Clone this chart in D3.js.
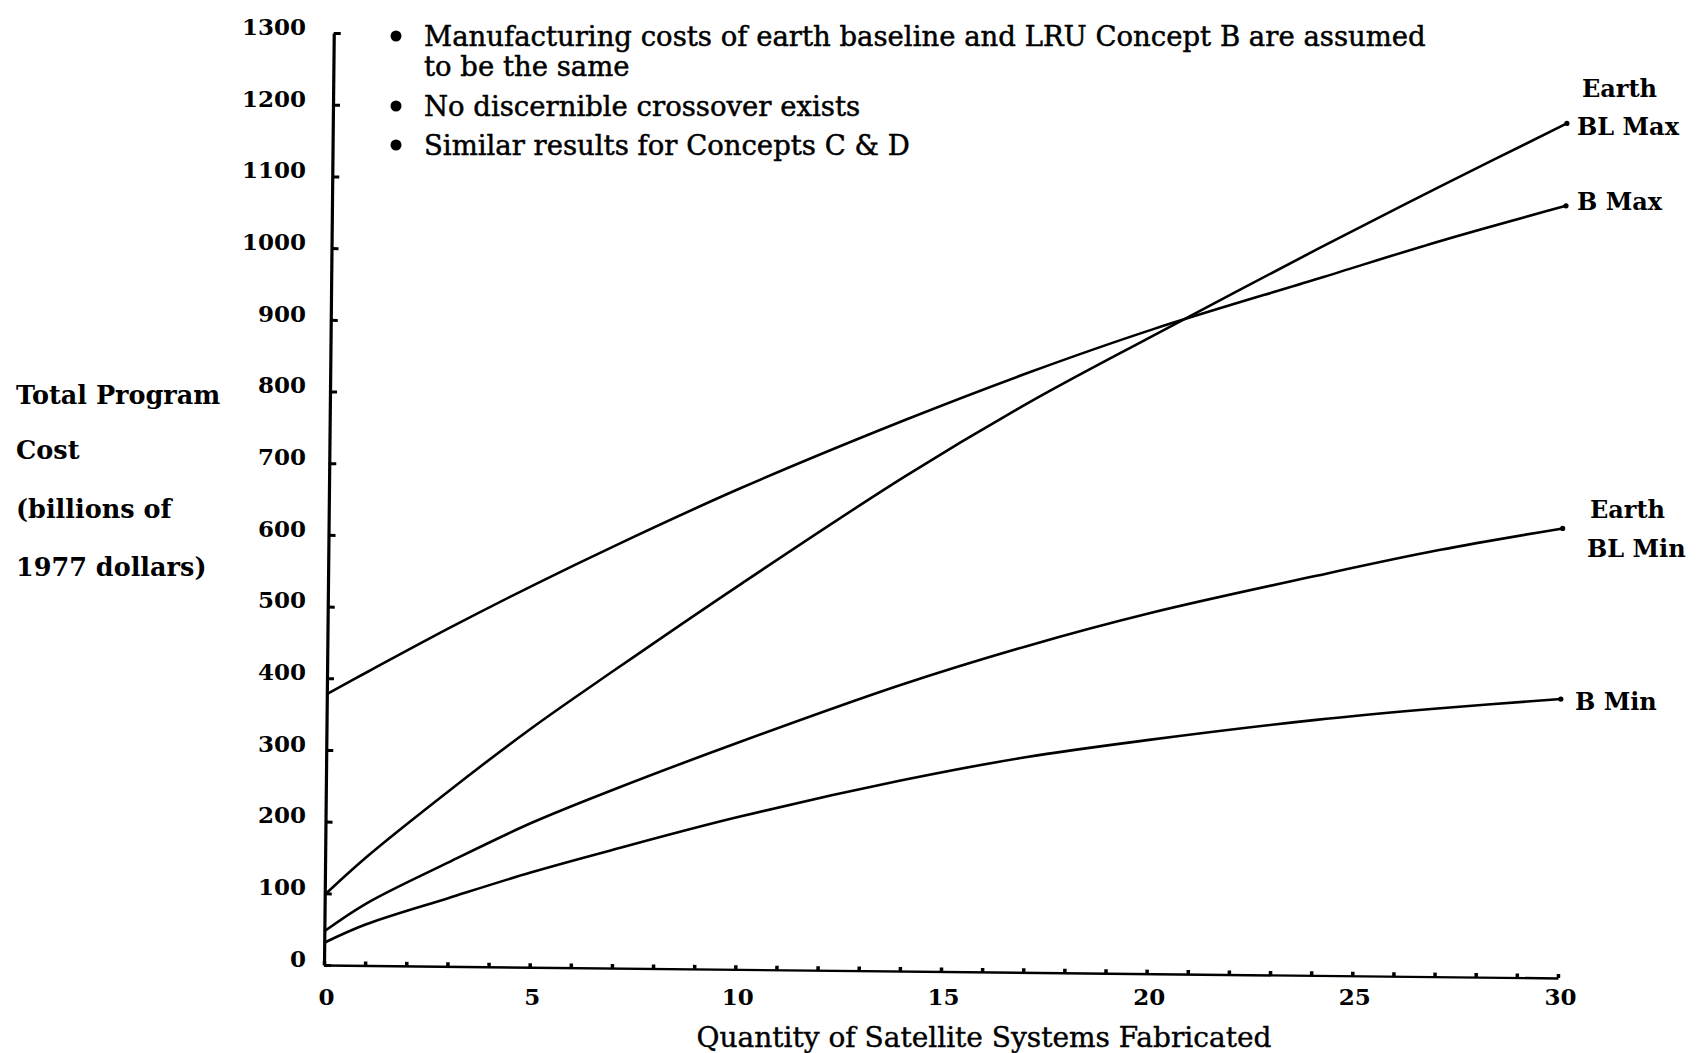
<!DOCTYPE html>
<html>
<head>
<meta charset="utf-8">
<script src="https://cdn.jsdelivr.net/npm/d3@7"></script>
<style>
  html, body { margin: 0; padding: 0; background: #fff; }
  svg { display: block; }
</style>
</head>
<body>
<svg id="chart" width="1697" height="1053"></svg>
<script>
// ---- data ----
const quantity = [0, 1, 3, 5, 7, 10, 14, 17, 20, 24, 27, 30];
const earthBLMax = [98, 151, 245, 334, 416, 536, 690, 795, 890, 1014, 1104, 1192];
const bMax       = [378, 410, 473, 533, 590, 671, 769, 837, 899, 972, 1027, 1077];
const earthBLMin = [47, 86, 145, 201, 249, 316, 400, 455, 503, 557, 595, 627];
const bMin       = [31, 57, 95, 132, 165, 212, 266, 300, 326, 356, 374, 389];

const seriesNames = ["Earth BL Max", "B Max", "Earth BL Min", "B Min"];
const yTicks = [0,100,200,300,400,500,600,700,800,900,1000,1100,1200,1300];
const xMinorTicks = d3.range(0, 31);
const xLabelTicks = [0, 5, 10, 15, 20, 25, 30];
const notes = [
  ["Manufacturing costs of earth baseline and LRU Concept B are assumed", "to be the same"],
  ["No discernible crossover exists"],
  ["Similar results for Concepts C & D"]
];
const yTitle = ["Total Program", "Cost", "(billions of", "1977 dollars)"];
const xTitle = "Quantity of Satellite Systems Fabricated";
const endLabels = [["Earth", "BL Max"], ["B Max"], ["Earth", "BL Min"], ["B Min"]];

// ---- layout ----
const svg = d3.select("#chart");
const ox = 324, oy = 965;           // plot origin
const x = d3.scaleLinear().domain([0, 30]).range([0, 1234]);
const y = d3.scaleLinear().domain([0, 1300]).range([0, -932]);
const serif = "'DejaVu Serif', serif";

// plot group, slightly rotated like the scanned original
const plot = svg.append("g")
  .attr("transform", `translate(${ox},${oy}) rotate(0.6)`);

// y axis (ticks inward)
const yAxisG = plot.append("g")
  .call(d3.axisLeft(y).tickValues(yTicks).tickSize(-7).tickSizeOuter(0).tickFormat(""));
yAxisG.select(".domain").attr("stroke", "#000").attr("stroke-width", 3.2);
yAxisG.selectAll(".tick line").attr("stroke", "#000").attr("stroke-width", 3);

// x axis (minor inward ticks)
const xAxisG = plot.append("g")
  .call(d3.axisBottom(x).tickValues(xMinorTicks).tickSize(-4).tickSizeOuter(0).tickFormat(""));
xAxisG.select(".domain").attr("stroke", "#000").attr("stroke-width", 2.4);
xAxisG.selectAll(".tick line").attr("stroke", "#000").attr("stroke-width", 3.5);

// lines
const allSeries = [earthBLMax, bMax, earthBLMin, bMin];
const line = d3.line()
  .x((d, i) => x(quantity[i]))
  .y(d => y(d))
  .curve(d3.curveCatmullRom.alpha(0.5));

plot.selectAll("path.series")
  .data(allSeries)
  .join("path")
  .attr("class", "series")
  .attr("d", d => line(d))
  .attr("fill", "none")
  .attr("stroke", "#000")
  .attr("stroke-width", 2.6)
  .attr("stroke-linejoin", "round");

// small end dots
plot.selectAll("circle.end")
  .data(allSeries)
  .join("circle")
  .attr("class", "end")
  .attr("cx", x(quantity[quantity.length - 1]))
  .attr("cy", d => y(d[d.length - 1]))
  .attr("r", 2.6)
  .attr("fill", "#000");

// end labels
const endPos = [
  [[1582, 88], [1577, 126]],
  [[1577, 201]],
  [[1590, 509], [1587, 548]],
  [[1575, 701]]
];
endLabels.forEach((lines, k) => {
  lines.forEach((t, j) => {
    svg.append("text")
      .attr("x", endPos[k][j][0])
      .attr("y", endPos[k][j][1])
      .attr("dy", "0.36em")
      .attr("font-family", serif)
      .attr("font-weight", "bold")
      .attr("font-size", 24)
      .attr("fill", "#000")
      .text(t);
  });
});

// tick labels (unrotated, like the original lettering)
const yLab = svg.append("g")
  .attr("transform", `translate(${ox - 18},${oy - 6})`)
  .call(d3.axisLeft(y).tickValues(yTicks).tickSize(0).tickPadding(0).tickFormat(d3.format("d")));
yLab.select(".domain").remove();
yLab.selectAll("text")
  .attr("font-family", serif).attr("font-weight", "bold")
  .attr("font-size", 23).attr("fill", "#000");

const xLab = svg.append("g")
  .attr("transform", `translate(${ox + 2},${oy})`)
  .call(d3.axisBottom(x).tickValues(xLabelTicks).tickSize(0).tickPadding(24));
xLab.select(".domain").remove();
xLab.selectAll("text")
  .attr("font-family", serif).attr("font-weight", "bold")
  .attr("font-size", 23).attr("fill", "#000");

// axis titles
svg.append("text")
  .attr("x", 984).attr("y", 1037).attr("dy", "0.36em")
  .attr("text-anchor", "middle")
  .attr("font-family", serif).attr("font-size", 28)
  .attr("fill", "#000").attr("stroke", "#000").attr("stroke-width", 0.4)
  .text(xTitle);

const yTitleY = [395, 450, 509, 567];
yTitle.forEach((t, i) => {
  svg.append("text")
    .attr("x", 16).attr("y", yTitleY[i]).attr("dy", "0.36em")
    .attr("font-family", serif).attr("font-weight", "bold").attr("font-size", 25.5)
    .attr("fill", "#000")
    .text(t);
});

// notes
const noteY = [[36, 66], [106], [145]];
notes.forEach((lines, i) => {
  svg.append("circle")
    .attr("cx", 396).attr("cy", noteY[i][0]).attr("r", 5.5).attr("fill", "#000");
  lines.forEach((t, j) => {
    svg.append("text")
      .attr("x", 424).attr("y", noteY[i][j]).attr("dy", "0.36em")
      .attr("font-family", serif).attr("font-size", 27.5)
      .attr("fill", "#000").attr("stroke", "#000").attr("stroke-width", 0.5)
      .text(t);
  });
});
</script>
</body>
</html>
